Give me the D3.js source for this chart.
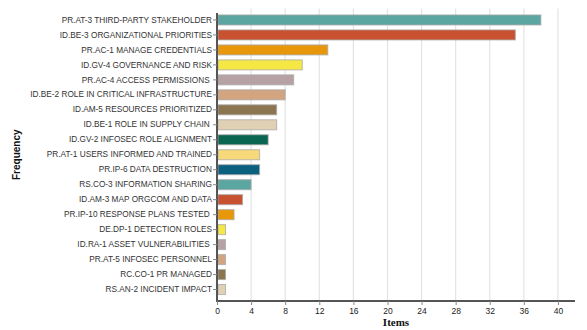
<!DOCTYPE html>
<html>
<head>
<meta charset="utf-8">
<script src="https://cdn.jsdelivr.net/npm/d3@7"></script>
<style>
  html, body { margin: 0; padding: 0; background: #fff; }
  svg { display: block; }
  .cat-axis text { white-space: pre; }
</style>
</head>
<body>
<svg id="chart" width="587" height="330"></svg>
<script>
// Subcategory labels (some carry a trailing space in the source data)
const categories = [
  "PR.AT-3 THIRD-PARTY STAKEHOLDER",
  "ID.BE-3 ORGANIZATIONAL PRIORITIES",
  "PR.AC-1 MANAGE CREDENTIALS",
  "ID.GV-4 GOVERNANCE AND RISK",
  "PR.AC-4 ACCESS PERMISSIONS ",
  "ID.BE-2 ROLE IN CRITICAL INFRASTRUCTURE",
  "ID.AM-5 RESOURCES PRIORITIZED",
  "ID.BE-1 ROLE IN SUPPLY CHAIN ",
  "ID.GV-2 INFOSEC ROLE ALIGNMENT",
  "PR.AT-1 USERS INFORMED AND TRAINED",
  "PR.IP-6 DATA DESTRUCTION",
  "RS.CO-3 INFORMATION SHARING",
  "ID.AM-3 MAP ORGCOM AND DATA",
  "PR.IP-10 RESPONSE PLANS TESTED ",
  "DE.DP-1 DETECTION ROLES",
  "ID.RA-1 ASSET VULNERABILITIES ",
  "PR.AT-5 INFOSEC PERSONNEL",
  "RC.CO-1 PR MANAGED",
  "RS.AN-2 INCIDENT IMPACT"
];

// Number of items per subcategory
const items = [38, 35, 13, 10, 9, 8, 7, 7, 6, 5, 5, 4, 3, 2, 1, 1, 1, 1, 1];

// Bar colours, cycled over the categories
const palette = [
  "#5BA6A0", "#C8522F", "#E8970B", "#F5E744", "#B6A2A4", "#D2A480",
  "#8C7650", "#E1D1B4", "#0B6651", "#F7D97A", "#0B6080"
];

const xTicks = [0, 4, 8, 12, 16, 20, 24, 28, 32, 36, 40];
const xMax = 42;

const svg = d3.select("#chart");
const plotLeft = 217, plotRight = 575, plotTop = 8.5, plotBottom = 301;

const x = d3.scaleLinear().domain([0, xMax]).range([plotLeft, plotRight]);
const y = d3.scaleBand().domain(categories).range([plotTop, plotBottom])
  .paddingInner(0.33).paddingOuter(0.43);
const color = d3.scaleOrdinal().domain(categories)
  .range(categories.map((c, i) => palette[i % palette.length]));

// vertical grid lines
svg.append("g")
  .selectAll("line")
  .data(xTicks.slice(1))
  .join("line")
  .attr("x1", d => x(d)).attr("x2", d => x(d))
  .attr("y1", plotTop).attr("y2", plotBottom)
  .attr("stroke", "#e3e3e3").attr("stroke-width", 1.2);

// bars
svg.append("g")
  .selectAll("rect")
  .data(categories)
  .join("rect")
  .attr("x", x(0) + 1)
  .attr("y", d => y(d))
  .attr("width", (d, i) => x(items[i]) - x(0) - 1)
  .attr("height", y.bandwidth())
  .attr("fill", d => color(d))
  .attr("stroke", "#aaa")
  .attr("stroke-opacity", 0.8)
  .attr("stroke-width", 1);

// category axis
const yAxis = svg.append("g")
  .attr("class", "cat-axis")
  .attr("transform", `translate(${plotLeft},0)`)
  .call(d3.axisLeft(y).tickSize(4).tickSizeOuter(0).tickPadding(1));
yAxis.select(".domain").attr("stroke", "#555").attr("stroke-width", 2)
  .attr("d", `M0,${plotTop + 4.5}V${plotBottom}`);
yAxis.selectAll(".tick line").attr("stroke", "#888");
yAxis.selectAll("text")
  .attr("font-family", "Arial, 'Liberation Sans', sans-serif")
  .attr("font-size", 8.25)
  .attr("fill", "#333");

// value axis
const xAxis = svg.append("g")
  .attr("transform", `translate(0,${plotBottom})`)
  .call(d3.axisBottom(x).tickValues(xTicks).tickSize(4).tickSizeOuter(0).tickPadding(3));
xAxis.select(".domain").attr("stroke", "#555").attr("stroke-width", 2)
  .attr("d", `M${plotLeft - 1},0H${plotRight}`);
xAxis.selectAll(".tick line").attr("stroke", "#888");
xAxis.selectAll("text")
  .attr("font-family", "Arial, 'Liberation Sans', sans-serif")
  .attr("font-size", 8.5)
  .attr("fill", "#222");

// axis titles
svg.append("text")
  .attr("x", (plotLeft + plotRight) / 2)
  .attr("y", 326)
  .attr("text-anchor", "middle")
  .attr("font-family", "'Liberation Serif', 'Times New Roman', serif")
  .attr("font-weight", "bold")
  .attr("font-size", 11)
  .attr("fill", "#111")
  .text("Items");

svg.append("text")
  .attr("transform", `translate(20,${(plotTop + plotBottom) / 2}) rotate(-90)`)
  .attr("text-anchor", "middle")
  .attr("font-family", "Arial, 'Liberation Sans', sans-serif")
  .attr("font-weight", "bold")
  .attr("font-size", 10)
  .attr("fill", "#111")
  .text("Frequency");
</script>
</body>
</html>
